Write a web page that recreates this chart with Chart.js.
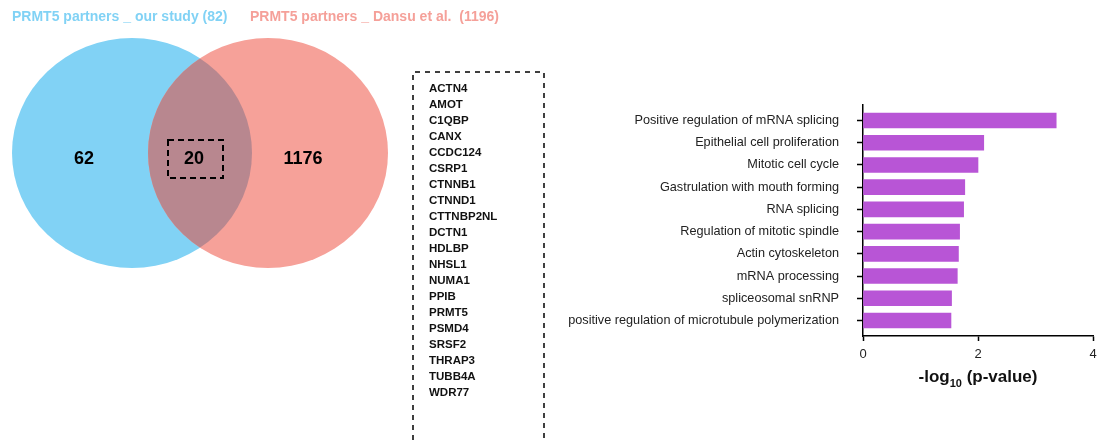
<!DOCTYPE html>
<html>
<head>
<meta charset="utf-8">
<script src="https://cdn.jsdelivr.net/npm/chart.js@4"></script>
<style>
  html, body { margin: 0; padding: 0; background: #fff; }
  #wrap { width: 1097px; height: 443px; }
</style>
</head>
<body>
<div id="wrap"><canvas id="myChart" width="1097" height="443"></canvas></div>
<script>
// GO terms and -log10(p) values (top to bottom)
var terms = [
  "Positive regulation of mRNA splicing",
  "Epithelial cell proliferation",
  "Mitotic cell cycle",
  "Gastrulation with mouth forming",
  "RNA splicing",
  "Regulation of mitotic spindle",
  "Actin cytoskeleton",
  "mRNA processing",
  "spliceosomal snRNP",
  "positive regulation of microtubule polymerization"
];
var pValues = [3.36, 2.10, 2.00, 1.77, 1.75, 1.68, 1.66, 1.64, 1.54, 1.53];
var xTicks = [0, 2, 4];

// Venn counts
var vennTitles = ["PRMT5 partners _ our study (82)", "PRMT5 partners _ Dansu et al.  (1196)"];
var vennCounts = [62, 20, 1176];

// shared genes
var genes = ["ACTN4", "AMOT", "C1QBP", "CANX", "CCDC124", "CSRP1", "CTNNB1", "CTNND1",
  "CTTNBP2NL", "DCTN1", "HDLBP", "NHSL1", "NUMA1", "PPIB", "PRMT5", "PSMD4",
  "SRSF2", "THRAP3", "TUBB4A", "WDR77"];

var FONT = "'Liberation Sans', Arial, sans-serif";

var extras = {
  id: 'extras',
  beforeDraw: function(chart) {
    var ctx = chart.ctx;
    ctx.save();

    // titles
    ctx.font = "bold 14px " + FONT;
    ctx.textBaseline = "alphabetic";
    ctx.textAlign = "left";
    ctx.fillStyle = "#81d2f5";
    ctx.fillText(vennTitles[0], 12, 21);
    ctx.fillStyle = "#f5a099";
    ctx.fillText(vennTitles[1], 250, 21);

    // venn circles
    var cy = 153, rx = 120, ry = 115;
    ctx.fillStyle = "#81d2f5";
    ctx.beginPath(); ctx.ellipse(132, cy, rx, ry, 0, 0, Math.PI * 2); ctx.fill();
    ctx.fillStyle = "#f6a199";
    ctx.beginPath(); ctx.ellipse(268, cy, rx, ry, 0, 0, Math.PI * 2); ctx.fill();
    ctx.save();
    ctx.beginPath(); ctx.ellipse(132, cy, rx, ry, 0, 0, Math.PI * 2); ctx.clip();
    ctx.fillStyle = "#b8878f";
    ctx.beginPath(); ctx.ellipse(268, cy, rx, ry, 0, 0, Math.PI * 2); ctx.fill();
    ctx.restore();

    ctx.font = "bold 18px " + FONT;
    ctx.fillStyle = "#000";
    ctx.textAlign = "center";
    ctx.textBaseline = "middle";
    ctx.fillText(String(vennCounts[0]), 84, 159);
    ctx.fillText(String(vennCounts[1]), 194, 159);
    ctx.fillText(String(vennCounts[2]), 303, 159);

    ctx.setLineDash([6, 4]);
    ctx.lineWidth = 2;
    ctx.strokeStyle = "#000";
    ctx.strokeRect(168, 140, 55, 38);

    // gene list box
    ctx.setLineDash([5, 5]);
    ctx.lineWidth = 1.5;
    ctx.beginPath();
    ctx.moveTo(413, 450); ctx.lineTo(413, 72); ctx.lineTo(544, 72); ctx.lineTo(544, 450);
    ctx.stroke();
    ctx.setLineDash([]);

    ctx.font = "bold 11.5px " + FONT;
    ctx.textAlign = "left";
    ctx.fillStyle = "#111";
    genes.forEach(function(g, i) {
      ctx.fillText(g, 429, 89 + i * 16);
    });

    ctx.restore();
  },
  afterDraw: function(chart) {
    var ctx = chart.ctx;
    var a = chart.chartArea;
    var cx = (a.left + a.right) / 2;
    ctx.save();
    ctx.fillStyle = "#111";
    ctx.textBaseline = "alphabetic";
    ctx.textAlign = "left";
    var p1 = "-log", sub = "10", p2 = " (p-value)";
    ctx.font = "bold 17px " + FONT;
    var w1 = ctx.measureText(p1).width, w3 = ctx.measureText(p2).width;
    ctx.font = "bold 11px " + FONT;
    var w2 = ctx.measureText(sub).width;
    var x = cx - (w1 + w2 + w3) / 2;
    ctx.font = "bold 17px " + FONT;
    ctx.fillText(p1, x, 382);
    ctx.font = "bold 11px " + FONT;
    ctx.fillText(sub, x + w1, 387);
    ctx.font = "bold 17px " + FONT;
    ctx.fillText(p2, x + w1 + w2, 382);
    ctx.restore();
  }
};

new Chart("myChart", {
  type: "bar",
  data: {
    datasets: [{
      data: pValues.map(function(v, i) { return {x: v, y: i}; }),
      backgroundColor: "#b855d6",
      borderWidth: 0,
      barThickness: 15
    }]
  },
  options: {
    indexAxis: "y",
    responsive: false,
    animation: false,
    layout: {padding: {left: 0, top: 105, right: 4, bottom: 0}},
    plugins: {legend: {display: false}, tooltip: {enabled: false}},
    scales: {
      x: {
        type: "linear",
        min: 0,
        max: 4,
        afterFit: function(s) { s.height = 107; s.paddingLeft = 0; s.paddingRight = 0; },
        afterBuildTicks: function(s) { s.ticks = xTicks.map(function(v) { return {value: v}; }); },
        grid: {drawOnChartArea: false, tickLength: 5, tickColor: "#000", tickWidth: 1.5},
        border: {color: "#000", width: 1.5},
        ticks: {color: "#222", font: {family: FONT, size: 13}, padding: 6, maxRotation: 0}
      },
      y: {
        type: "linear",
        reverse: true,
        offset: false,
        min: -0.699,
        max: 9.699,
        afterFit: function(s) { s.width = 863; s.paddingTop = 0; s.paddingBottom = 0; },
        afterBuildTicks: function(s) { s.ticks = terms.map(function(t, i) { return {value: i}; }); },
        grid: {offset: false, drawOnChartArea: false, tickLength: 6, tickColor: "#000", tickWidth: 1.5},
        border: {color: "#000", width: 1.5},
        ticks: {
          autoSkip: false,
          color: "#222",
          font: {family: FONT, size: 12.7},
          padding: 18,
          callback: function(v) { return terms[v]; }
        }
      }
    }
  },
  plugins: [extras]
});
</script>
</body>
</html>
